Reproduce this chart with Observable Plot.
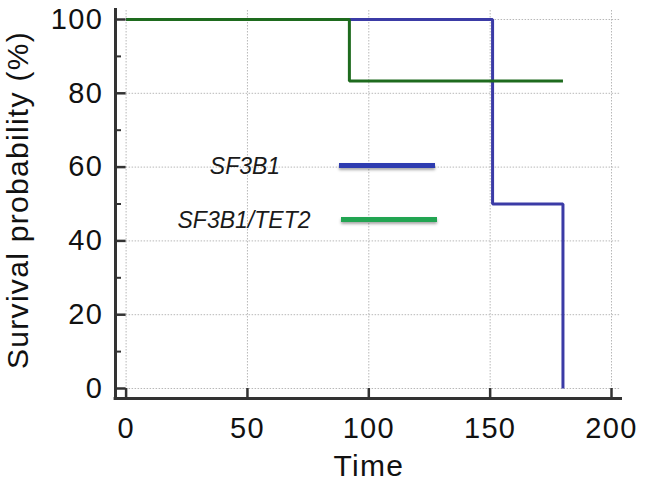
<!DOCTYPE html>
<html><head><meta charset="utf-8">
<script src="https://cdn.jsdelivr.net/npm/d3@7"></script>
<script src="https://cdn.jsdelivr.net/npm/@observablehq/plot@0.6"></script>
<style>
body{margin:0;background:#fff;}
#wrap{position:relative;width:646px;height:499px;font-family:"Liberation Sans",Arial,sans-serif;}
#wrap svg text{letter-spacing:1.3px;}
.lg-text{position:absolute;font-style:italic;font-size:23px;color:#1a1a1a;transform:translate(-50%,-50%);white-space:nowrap;line-height:1;}
.lg-line{position:absolute;height:5px;box-shadow:0 2px 3px rgba(0,0,0,0.35);}
</style></head><body><div id="wrap"></div>
<script>
const seriesNames = ["SF3B1", "SF3B1/TET2"];
const sf3b1Time = [0, 151, 180];
const sf3b1Surv = [100, 50, 0];
const tet2Time = [0, 92, 180];
const tet2Surv = [100, 83.33, 83.33];
const xTicks = [0, 50, 100, 150, 200];
const yTicks = [0, 20, 40, 60, 80, 100];
const yMinorTicks = [10, 30, 50, 70, 90];
const xLabel = "Time";
const yLabel = "Survival probability (%)";
const lineColors = ["#3b3ba6", "#1e6b1e"];
const legendColors = ["#2e3cb0", "#22a552"];

const rows = [
  ...sf3b1Time.map((t, i) => ({series: seriesNames[0], time: t, surv: sf3b1Surv[i]})),
  ...tet2Time.map((t, i) => ({series: seriesNames[1], time: t, surv: tet2Surv[i]}))
];

const font = '"Liberation Sans", Arial, sans-serif';
const chart = Plot.plot({
  width: 646, height: 499,
  marginLeft: 125.6, marginRight: 35, marginTop: 19, marginBottom: 111,
  style: {fontFamily: font, fontSize: "29px", color: "#1a1a1a", background: "#fff", overflow: "visible"},
  x: {domain: [0, 200]},
  y: {domain: [0, 100]},
  color: {domain: seriesNames, range: lineColors},
  marks: [
    Plot.ruleX(xTicks, {stroke: "#b8b8b8", strokeWidth: 1, strokeDasharray: "1.5,1.5", insetTop: -9}),
    Plot.ruleY(yTicks, {stroke: "#b8b8b8", strokeWidth: 1, strokeDasharray: "1.5,1.5", insetRight: -9}),
    Plot.axisX(xTicks, {anchor: "bottom", tickSize: 10, tickPadding: 19, stroke: "#333", strokeWidth: 2.5, fill: "#111", label: null, fontSize: 29}),
    Plot.axisY(yTicks, {anchor: "left", tickSize: 10, tickPadding: 13, stroke: "#333", strokeWidth: 2.5, fill: "#111", label: null, fontSize: 29}),
    Plot.axisY(yMinorTicks, {anchor: "left", tickSize: 6, dx: -4.6, stroke: "#333", strokeWidth: 2, tickFormat: () => "", label: null}),
    Plot.ruleX([0], {dx: -10.6, insetTop: -11, insetBottom: -11.5, stroke: "#333", strokeWidth: 3}),
    Plot.ruleY([0], {dy: 10, insetLeft: -12, insetRight: -11, stroke: "#333", strokeWidth: 3}),
    Plot.line(rows, {x: "time", y: "surv", z: "series", stroke: "series", curve: "step-after", strokeWidth: 3, strokeLinejoin: "miter", strokeLinecap: "butt"}),
    Plot.text([xLabel], {frameAnchor: "bottom", dy: 87, fontSize: 30, fill: "#111"}),
    Plot.text([yLabel], {frameAnchor: "left", textAnchor: "middle", rotate: -90, dx: -107.6, dy: -4, fontSize: 30, fill: "#111"})
  ]
});
const wrap = document.getElementById("wrap");
wrap.appendChild(chart);

const legendPos = [{tx: 245, ty: 166, lx: 339, ly: 162.5}, {tx: 244, ty: 220, lx: 341, ly: 216.5}];
seriesNames.forEach((name, i) => {
  const p = legendPos[i];
  const t = document.createElement("div");
  t.className = "lg-text";
  t.textContent = name;
  t.style.left = p.tx + "px";
  t.style.top = p.ty + "px";
  wrap.appendChild(t);
  const l = document.createElement("div");
  l.className = "lg-line";
  l.style.left = p.lx + "px";
  l.style.top = p.ly + "px";
  l.style.width = "96px";
  l.style.background = legendColors[i];
  wrap.appendChild(l);
});
</script></body></html>
